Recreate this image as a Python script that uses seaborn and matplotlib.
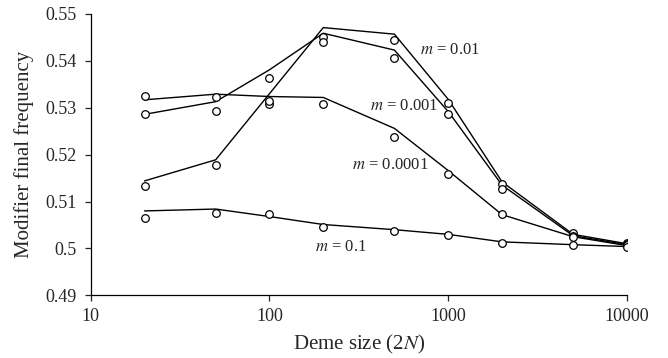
import numpy as np
import pandas as pd
import matplotlib
matplotlib.use("Agg")
import matplotlib.pyplot as plt
import seaborn as sns

# deme sizes (2N)
deme = [20, 50, 100, 200, 500, 1000, 2000, 5000, 10000]
m_labels = ["0.01", "0.001", "0.0001", "0.1"]

# theory lines
line_m001 = [0.5144, 0.5189, 0.5330, 0.5471, 0.5457, 0.5318, 0.5142, 0.5030, 0.5010]
line_m0001 = [0.5286, 0.5313, 0.5381, 0.5459, 0.5423, 0.5292, 0.5135, 0.5027, 0.5008]
line_m00001 = [0.5317, 0.5329, 0.5324, 0.5322, 0.5256, 0.5166, 0.5072, 0.5025, 0.5006]
line_m01 = [0.5080, 0.5084, 0.5068, 0.5051, 0.5040, 0.5030, 0.5014, 0.5008, 0.5004]

# simulation points
sim_m001 = [0.5133, 0.5177, 0.5309, 0.5450, 0.5445, 0.5311, 0.5137, 0.5032, 0.5012]
sim_m0001 = [0.5287, 0.5294, 0.5363, 0.5441, 0.5406, 0.5286, 0.5126, 0.5027, 0.5010]
sim_m00001 = [0.5325, 0.5322, 0.5314, 0.5308, 0.5237, 0.5159, 0.5073, 0.5024, 0.5008]
sim_m01 = [0.5064, 0.5075, 0.5073, 0.5046, 0.5037, 0.5028, 0.5012, 0.5007, 0.5004]

lines = [line_m001, line_m0001, line_m00001, line_m01]
sims = [sim_m001, sim_m0001, sim_m00001, sim_m01]

rows = []
for lab, ln, sm in zip(m_labels, lines, sims):
    for d, a, b in zip(deme, ln, sm):
        rows.append({"m": lab, "deme": d, "theory": a, "sim": b})
df = pd.DataFrame(rows)

sns.set_style("white")
plt.rcParams["font.family"] = ["Liberation Serif", "DejaVu Serif"]
plt.rcParams["mathtext.fontset"] = "stix"

fig = plt.figure(figsize=(6.68, 3.58), dpi=100)
ax = fig.add_axes([0.1358, 0.1751, 0.8028, 0.7858])

sns.lineplot(data=df, x="deme", y="theory", units="m", estimator=None,
             color="black", linewidth=1.0, ax=ax, legend=False)
sns.scatterplot(data=df, x="deme", y="sim", marker="o", s=30,
                facecolor="white", edgecolor="black", linewidth=0.9,
                ax=ax, legend=False, zorder=3)

ax.set_xscale("log")
ax.set_xlim(10, 10000)
ax.set_ylim(0.49, 0.55)
ax.set_xticks([10, 100, 1000, 10000])
ax.set_xticklabels(["10", "100", "1000", "10000"])
ax.minorticks_off()
ax.set_yticks([0.49, 0.50, 0.51, 0.52, 0.53, 0.54, 0.55])
ax.set_yticklabels(["0.49", "0.5", "0.51", "0.52", "0.53", "0.54", "0.55"])

for s in ["top", "right"]:
    ax.spines[s].set_visible(False)
for s in ["left", "bottom"]:
    ax.spines[s].set_color("black")
    ax.spines[s].set_linewidth(0.9)

ax.tick_params(axis="y", direction="out", length=4, width=0.9, labelsize=13, pad=6, left=True)
ax.tick_params(axis="x", direction="out", length=4, width=0.9, labelsize=13, pad=5, bottom=True)

ax.set_xlabel("Deme size (2$\\mathit{N}$)", fontsize=15, labelpad=6)
ax.set_ylabel("Modifier final frequency", fontsize=15, labelpad=8)

# curve labels
ax.text(695, 0.5423, "$\\mathit{m}$ = 0.01", fontsize=12, va="center")
ax.text(365, 0.5304, "$\\mathit{m}$ = 0.001", fontsize=12, va="center")
ax.text(289, 0.5178, "$\\mathit{m}$ = 0.0001", fontsize=12, va="center")
ax.text(179, 0.5003, "$\\mathit{m}$ = 0.1", fontsize=12, va="center")

fig.savefig("out.png", dpi=100)
